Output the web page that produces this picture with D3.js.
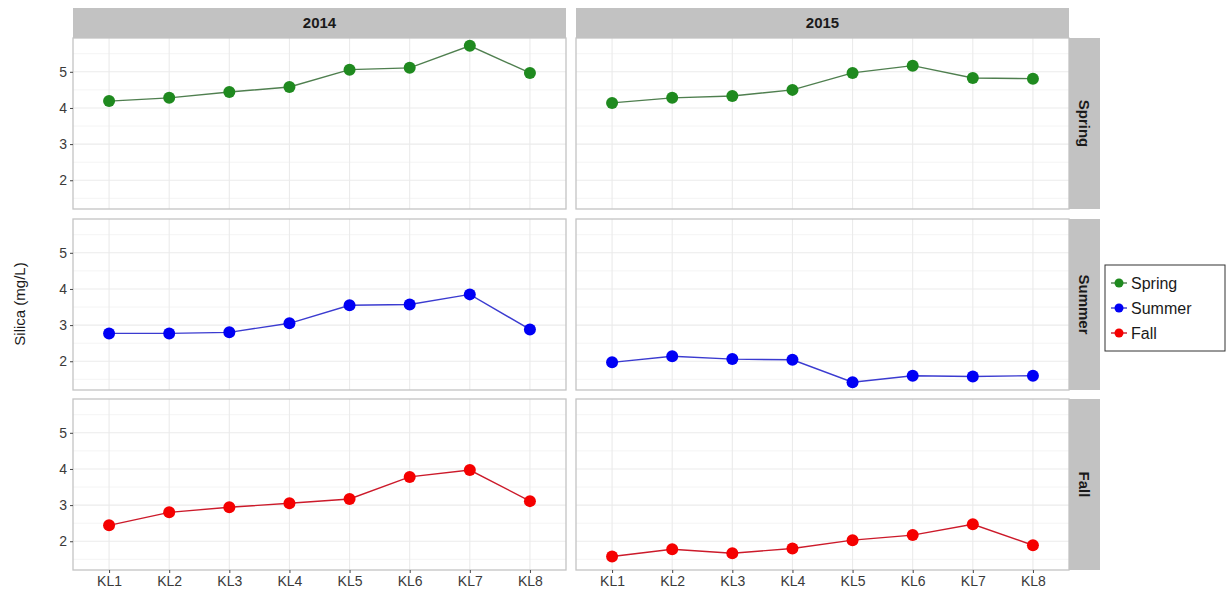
<!DOCTYPE html>
<html>
<head>
<meta charset="utf-8">
<script src="https://cdn.jsdelivr.net/npm/d3@7"></script>
<style>
  html, body { margin: 0; padding: 0; background: #fff; }
  svg { display: block; font-family: "Liberation Sans", Arial, sans-serif; }
</style>
</head>
<body>
<svg id="chart" width="1228" height="597"></svg>
<script>
// Sampling sites along the x axis
const sites = ["KL1", "KL2", "KL3", "KL4", "KL5", "KL6", "KL7", "KL8"];
const years = ["2014", "2015"];
const seasons = ["Spring", "Summer", "Fall"];
const yTicks = [2, 3, 4, 5];

// Silica concentrations (mg/L) per site
const spring2014 = [4.19, 4.28, 4.44, 4.58, 5.06, 5.11, 5.72, 4.97];
const spring2015 = [4.14, 4.28, 4.33, 4.50, 4.97, 5.17, 4.83, 4.81];
const summer2014 = [2.77, 2.77, 2.80, 3.05, 3.55, 3.57, 3.85, 2.88];
const summer2015 = [1.97, 2.14, 2.06, 2.04, 1.42, 1.60, 1.58, 1.60];
const fall2014   = [2.44, 2.80, 2.94, 3.05, 3.17, 3.78, 3.97, 3.11];
const fall2015   = [1.58, 1.78, 1.67, 1.80, 2.03, 2.17, 2.47, 1.89];

const seriesValues = {
  Spring: { "2014": spring2014, "2015": spring2015 },
  Summer: { "2014": summer2014, "2015": summer2015 },
  Fall:   { "2014": fall2014,   "2015": fall2015 }
};

const pointColor = { Spring: "#1f8a1f", Summer: "#0000f5", Fall: "#f50000" };
const lineColor  = { Spring: "#4f7f4f", Summer: "#3b3bd0", Fall: "#cc1a2a" };

const svg = d3.select("#chart");

// Panel grid geometry
const colX = [73, 576];
const panelW = 493;
const rowY = [38, 219, 399];
const panelH = 171;
const stripTop = 8;
const stripRightX = 1069;
const stripW = 31;

// Shared y domain with a 5% expansion
const allVals = [].concat(spring2014, spring2015, summer2014, summer2015, fall2014, fall2015);
const [vmin, vmax] = d3.extent(allVals);
const pad = (vmax - vmin) * 0.05;
const yDomain = [vmin - pad, vmax + pad];

// Discrete x positions with 0.6 expansion on both sides
const xIdx = d3.scaleLinear().domain([1 - 0.6, sites.length + 0.6]).range([0, panelW]);
const x = s => xIdx(sites.indexOf(s) + 1);

const minorTicks = d3.range(1.5, 6, 1);

seasons.forEach((season, r) => {
  const y = d3.scaleLinear().domain(yDomain).range([panelH, 0]);
  years.forEach((year, c) => {
    const g = svg.append("g").attr("transform", `translate(${colX[c]},${rowY[r]})`);
    g.append("rect").attr("width", panelW).attr("height", panelH).attr("fill", "#fff");

    // minor horizontal grid
    g.selectAll(".gmin").data(minorTicks.filter(t => t > yDomain[0] && t < yDomain[1]))
      .enter().append("line")
      .attr("x1", 0).attr("x2", panelW)
      .attr("y1", d => y(d)).attr("y2", d => y(d))
      .attr("stroke", "#f4f4f4").attr("stroke-width", 1);
    // major horizontal grid
    g.selectAll(".gmaj").data(yTicks).enter().append("line")
      .attr("x1", 0).attr("x2", panelW)
      .attr("y1", d => y(d)).attr("y2", d => y(d))
      .attr("stroke", "#ebebeb").attr("stroke-width", 1.1);
    // vertical grid at sites
    g.selectAll(".gv").data(sites).enter().append("line")
      .attr("x1", d => x(d)).attr("x2", d => x(d))
      .attr("y1", 0).attr("y2", panelH)
      .attr("stroke", "#ebebeb").attr("stroke-width", 1.1);

    const vals = seriesValues[season][year];
    const pts = sites.map((s, i) => ({ s, v: vals[i] }));
    g.append("path").datum(pts)
      .attr("fill", "none")
      .attr("stroke", lineColor[season])
      .attr("stroke-width", 1.4)
      .attr("d", d3.line().x(d => x(d.s)).y(d => y(d.v)));
    g.selectAll(".pt").data(pts).enter().append("circle")
      .attr("cx", d => x(d.s)).attr("cy", d => y(d.v)).attr("r", 6)
      .attr("fill", pointColor[season]);

    g.append("rect").attr("width", panelW).attr("height", panelH)
      .attr("fill", "none").attr("stroke", "#c4c4c4").attr("stroke-width", 1.3);

    // y axis on the left column
    if (c === 0) {
      const ax = g.append("g").call(d3.axisLeft(y).tickValues(yTicks).tickSize(3).tickPadding(3).tickFormat(d3.format("d")));
      ax.select(".domain").remove();
      ax.selectAll("line").attr("stroke", "#444");
      ax.selectAll("text").attr("fill", "#3a3a3a").attr("font-size", 14);
    }
    // x axis on the bottom row
    if (r === seasons.length - 1) {
      const xa = g.append("g").attr("transform", `translate(0,${panelH})`)
        .call(d3.axisBottom(d3.scalePoint().domain(sites).range([x(sites[0]), x(sites[sites.length - 1])]))
          .tickSize(3).tickPadding(3));
      xa.select(".domain").remove();
      xa.selectAll("line").attr("stroke", "#444");
      xa.selectAll("text").attr("fill", "#3a3a3a").attr("font-size", 14);
    }
  });

  // right-hand season strip
  const sy = rowY[r];
  svg.append("rect").attr("x", stripRightX).attr("y", sy).attr("width", stripW).attr("height", panelH)
    .attr("fill", "#c2c2c2");
  svg.append("text")
    .attr("transform", `translate(${stripRightX + stripW / 2},${sy + panelH / 2}) rotate(90)`)
    .attr("text-anchor", "middle").attr("dy", "0.35em")
    .attr("font-size", 15).attr("font-weight", "bold").attr("fill", "#1a1a1a")
    .text(season);
});

// top year strips
years.forEach((year, c) => {
  svg.append("rect").attr("x", colX[c]).attr("y", stripTop).attr("width", panelW).attr("height", rowY[0] - stripTop)
    .attr("fill", "#c2c2c2");
  svg.append("text")
    .attr("x", colX[c] + panelW / 2).attr("y", (stripTop + rowY[0]) / 2)
    .attr("text-anchor", "middle").attr("dy", "0.35em")
    .attr("font-size", 15).attr("font-weight", "bold").attr("fill", "#1a1a1a")
    .text(year);
});

// y axis title
svg.append("text")
  .attr("transform", `translate(20,${(rowY[0] + rowY[2] + panelH) / 2}) rotate(-90)`)
  .attr("text-anchor", "middle").attr("dy", "0.35em")
  .attr("font-size", 15).attr("fill", "#1a1a1a")
  .text("Silica (mg/L)");

// legend
const lg = svg.append("g").attr("transform", "translate(1105,265)");
lg.append("rect").attr("width", 120).attr("height", 86)
  .attr("fill", "#fff").attr("stroke", "#333").attr("stroke-width", 1);
seasons.forEach((s, i) => {
  const cy = 18 + i * 25;
  lg.append("line").attr("x1", 6).attr("x2", 22).attr("y1", cy).attr("y2", cy)
    .attr("stroke", lineColor[s]).attr("stroke-width", 1.4);
  lg.append("circle").attr("cx", 14).attr("cy", cy).attr("r", 4.5).attr("fill", pointColor[s]);
  lg.append("text").attr("x", 26).attr("y", cy).attr("dy", "0.35em")
    .attr("font-size", 16).attr("fill", "#1a1a1a").text(s);
});
</script>
</body>
</html>
